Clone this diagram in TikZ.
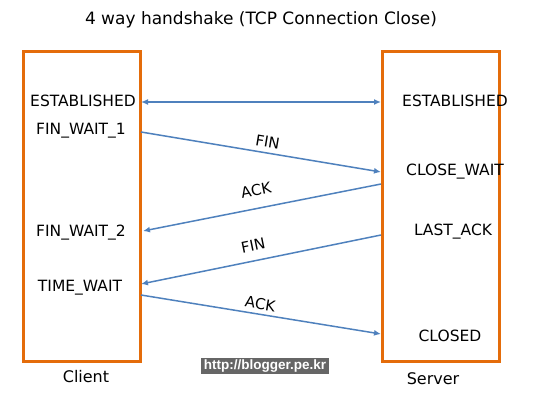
\documentclass[tikz,border=0pt]{standalone}
\usepackage{fontspec}
\setmainfont{DejaVu Sans}
\newfontfamily\markfont{Liberation Sans}
\usetikzlibrary{arrows.meta}
\definecolor{boxorange}{HTML}{E46C0A}
\definecolor{msgblue}{HTML}{4F81BD}
\tikzset{
    hostbox/.style={draw=boxorange, line width=3pt},
    state/.style={font=\fontsize{15.5}{18}\selectfont, inner sep=0pt},
    msg/.style={draw=msgblue, line width=1.5pt, -{Latex[length=7pt,width=6pt]}},
    msglabel/.style={font=\fontsize{15}{18}\selectfont, sloped, inner sep=0pt}
}
\begin{document}
\begin{tikzpicture}[x=1pt,y=-1pt]
    \useasboundingbox (0,0) rectangle (540,402);
    % Title
    \node[font=\fontsize{17}{20}\selectfont] (title) at (261,20) {4 way handshake (TCP Connection Close)};

    % Hosts
    \draw[hostbox] (23,51) rectangle (140,361);
    \draw[hostbox] (382,51) rectangle (499,361);
    \node[font=\fontsize{16}{18}\selectfont] (client) at (86,377) {Client};
    \node[font=\fontsize{16}{18}\selectfont] (server) at (433,379) {Server};

    % Client states
    \node[state] (cest) at (83,101) {ESTABLISHED};
    \node[state] (fw1) at (81,131) {FIN\_WAIT\_1};
    \node[state] (fw2) at (81,233) {FIN\_WAIT\_2};
    \node[state] (tw) at (80,288) {TIME\_WAIT};

    % Server states
    \node[state] (sest) at (455,101) {ESTABLISHED};
    \node[state] (cw) at (455,172) {CLOSE\_WAIT};
    \node[state] (la) at (453,232) {LAST\_ACK};
    \node[state] (cl) at (450,336) {CLOSED};

    % Arrow ends on the boxes
    \coordinate (c1) at (141,102); \coordinate (s1) at (381,102);
    \coordinate (c2) at (141,132); \coordinate (s2) at (381,172);
    \coordinate (s3) at (381,184); \coordinate (c3) at (143,231);
    \coordinate (s4) at (381,235); \coordinate (c4) at (141,284);
    \coordinate (c5) at (141,295); \coordinate (s5) at (381,334);

    % Messages
    \draw[msg, {Latex[length=7pt,width=6pt]}-{Latex[length=7pt,width=6pt]}] (c1) -- (s1);
    \draw[msg] (c2) -- node[msglabel, pos=0.52, above=5pt] {FIN} (s2);
    \draw[msg] (s3) -- node[msglabel, pos=0.51, above=12pt] {ACK} (c3);
    \draw[msg] (s4) -- node[msglabel, pos=0.52, above=9pt] {FIN} (c4);
    \draw[msg] (c5) -- node[msglabel, pos=0.49, above=4pt] {ACK} (s5);

    % Watermark
    \node[fill=black!60, text=white, font=\markfont\fontsize{13.5}{15}\selectfont\bfseries,
        inner xsep=3pt, inner ysep=2pt] (mark) at (265,366) {http://blogger.pe.kr};
\end{tikzpicture}
\end{document}
